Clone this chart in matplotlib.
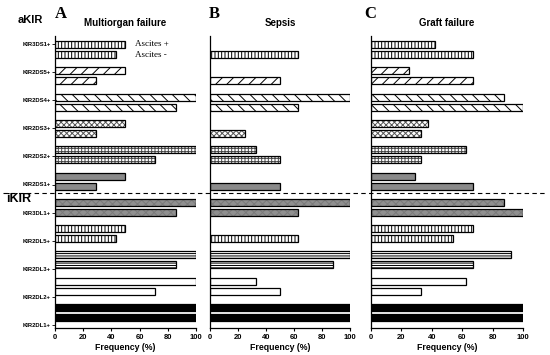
import numpy as np
import matplotlib
matplotlib.use('Agg')
import matplotlib.pyplot as plt
from matplotlib.lines import Line2D

# ---------------------------------------------------------
# data (frequency %, Ascites + / Ascites -)
# ---------------------------------------------------------
GENES = ['KIR3DS1+', 'KIR2DS5+', 'KIR2DS4+', 'KIR2DS3+', 'KIR2DS2+', 'KIR2DS1+',
         'KIR3DL1+', 'KIR2DL5+', 'KIR2DL3+', 'KIR2DL2+', 'KIR2DL1+']

MOF_POS = [50, 50, 100, 50, 100, 50, 100, 50, 100, 100, 100]
MOF_NEG = [43, 29, 86, 29, 71, 29, 86, 43, 86, 71, 100]

SEPSIS_POS = [0, 0, 100, 0, 33, 0, 100, 0, 100, 33, 100]
SEPSIS_NEG = [62.5, 50, 62.5, 25, 50, 50, 62.5, 62.5, 87.5, 50, 100]

GRAFT_POS = [42, 25, 87.5, 37.5, 62.5, 29, 87.5, 67, 92, 62.5, 100]
GRAFT_NEG = [67, 67, 100, 33, 33, 67, 100, 54, 67, 33, 100]

PANELS = [('A', 'Multiorgan failure', MOF_POS, MOF_NEG),
          ('B', 'Sepsis', SEPSIS_POS, SEPSIS_NEG),
          ('C', 'Graft failure', GRAFT_POS, GRAFT_NEG)]

X_TICKS = [0, 20, 40, 60, 80, 100]

# bar styles per gene: (facecolor, hatch, hatchcolor)
STYLES = [('white', '|||||', 'black'),
          ('white', '///', 'black'),
          ('white', '\\\\\\', 'black'),
          ('white', 'xxxxxx', '#555555'),
          ('white', '+++++', '#444444'),
          ('#8a8a8a', None, None),
          ('#8f8f8f', 'xxxx', '#7a7a7a'),
          ('white', '|||||', 'black'),
          ('white', '-------', 'black'),
          ('white', None, None),
          ('black', None, None)]

# ---------------------------------------------------------
# layout (pixel based)
# ---------------------------------------------------------
W, H = 550, 355
AX_TOP, AX_BOT = 36, 328
AX_X = [(55, 196), (210, 350), (371, 523)]
BAR_TOP0, BAR_PITCH, BAR_GAP, BAR_H = 44.5, 26.3, 10, 7
TICK0, TICK_PITCH = 44, 28.1

plt.rcParams['font.family'] = ['Liberation Sans', 'DejaVu Sans']
plt.rcParams['hatch.linewidth'] = 0.7


def fx(px):
    return px / W


def fy(py):
    return 1 - py / H


fig = plt.figure(figsize=(5.5, 3.55), dpi=100)

idx = np.arange(len(GENES))
y_top = BAR_TOP0 + BAR_PITCH * idx
y_bot = y_top + BAR_GAP

for k, (letter, title, pos, neg) in enumerate(PANELS):
    x0, x1 = AX_X[k]
    ax = fig.add_axes([fx(x0), fy(AX_BOT), (x1 - x0) / W, (AX_BOT - AX_TOP) / H])
    for i in idx:
        face, hatch, hcol = STYLES[i]
        for yy, v in ((y_top[i], pos[i]), (y_bot[i], neg[i])):
            if v == 0:
                continue
            ax.barh(yy, v, height=BAR_H, color=face, edgecolor=hcol or face,
                    hatch=hatch, linewidth=0)
            ax.barh(yy, v, height=BAR_H, fill=False, edgecolor='black', linewidth=0.9)

    ax.set_xlim(0, 100)
    ax.set_ylim(AX_BOT, AX_TOP)
    ax.set_xticks(X_TICKS)
    ax.set_xticklabels([str(t) for t in X_TICKS], fontsize=5.5, fontweight='bold')
    ax.tick_params(axis='x', length=2.5, width=0.8, pad=1.5)
    for s in ('top', 'right'):
        ax.spines[s].set_visible(False)
    ax.spines['left'].set_linewidth(0.9)
    ax.spines['bottom'].set_linewidth(0.9)
    if k == 0:
        ax.set_yticks(TICK0 + TICK_PITCH * idx)
        ax.set_yticklabels(GENES, fontsize=4.2, fontweight='bold')
        ax.tick_params(axis='y', length=2, width=0.6, pad=1)
    else:
        ax.set_yticks([])
    ax.set_xlabel('Frequency (%)', fontsize=6.3, fontweight='bold', labelpad=2)
    ax.set_title(title, fontsize=7, fontweight='bold', pad=7)

# panel letters
for letter, px in (('A', 55), ('B', 209), ('C', 364)):
    fig.text(fx(px), fy(14.5), letter, fontsize=12, fontweight='bold',
             family='Liberation Serif', va='center', ha='left')

fig.text(fx(18), fy(20), 'aKIR', fontsize=8, fontweight='bold', va='center')
fig.text(fx(6), fy(199), 'iKIR', fontsize=9, fontweight='bold', va='center')

fig.text(fx(135), fy(44), 'Ascites +', fontsize=6.5, family='Liberation Serif', va='center')
fig.text(fx(135), fy(55), 'Ascites -', fontsize=6.5, family='Liberation Serif', va='center')

# separator between activating and inhibitory KIR
fig.add_artist(Line2D([fx(3), fx(545)], [fy(193), fy(193)], color='black',
                      linewidth=0.8, linestyle=(0, (4, 3))))

fig.savefig('out.png', dpi=100)
